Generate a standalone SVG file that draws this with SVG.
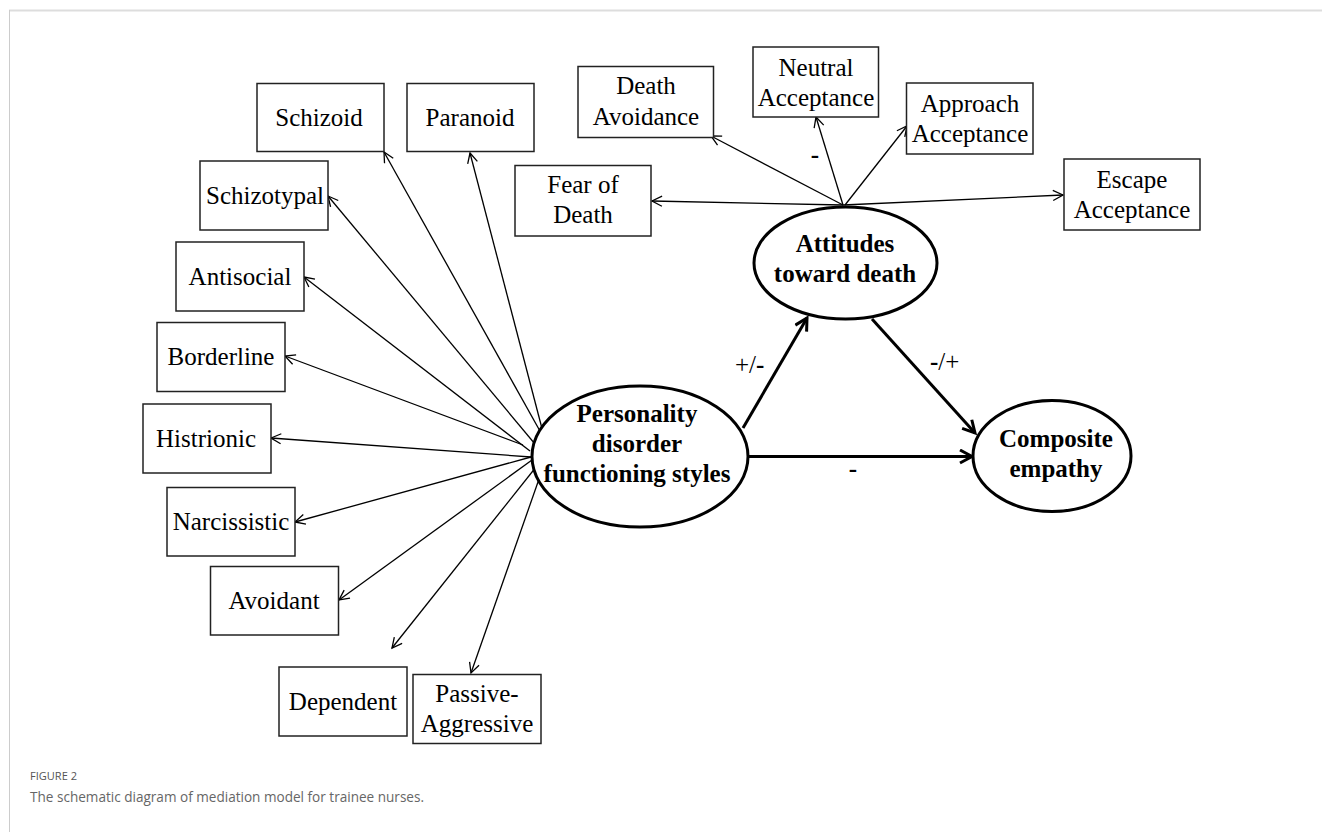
<svg xmlns="http://www.w3.org/2000/svg" width="1322" height="832" viewBox="0 0 1322 832">
<style>
.box{fill:#fff;stroke:#222;stroke-width:1.5}
.bt{font-family:"Liberation Serif","Times New Roman",serif;font-size:25px;fill:#000;text-anchor:middle}
.el{fill:#fff;stroke:#000;stroke-width:3}
.et{font-family:"Liberation Serif","Times New Roman",serif;font-size:25px;font-weight:bold;fill:#000;text-anchor:middle}
.thin{stroke:#000;stroke-width:1.3;fill:none;marker-end:url(#ah)}
.thick{stroke:#000;stroke-width:3;fill:none;marker-end:url(#ahb)}
.lbl{font-family:"Liberation Serif","Times New Roman",serif;font-size:25px;fill:#000}
</style>
<defs>
<marker id="ah" markerUnits="userSpaceOnUse" markerWidth="14" markerHeight="14" refX="11" refY="6" orient="auto">
<path d="M1,1 L11,6 L1,11" fill="none" stroke="#000" stroke-width="1.3"/>
</marker>
<marker id="ahb" markerUnits="userSpaceOnUse" markerWidth="18" markerHeight="18" refX="14" refY="8" orient="auto">
<path d="M2,1.5 L14,8 L2,14.5" fill="none" stroke="#000" stroke-width="3"/>
</marker>
</defs>
<rect width="1322" height="832" fill="#fff"/>
<line x1="9" y1="10.5" x2="1322" y2="10.5" stroke="#ddd" stroke-width="2"/>
<line x1="9.5" y1="10" x2="9.5" y2="832" stroke="#ccc" stroke-width="1"/>

<g id="connectors">
<line class="thin" x1="545" y1="440" x2="384" y2="152"/>
<line class="thin" x1="545" y1="440" x2="470" y2="153"/>
<line class="thin" x1="540" y1="450" x2="328" y2="196"/>
<line class="thin" x1="530" y1="451" x2="304" y2="277"/>
<line class="thin" x1="523" y1="445" x2="285" y2="356"/>
<line class="thin" x1="531" y1="457" x2="271" y2="438"/>
<line class="thin" x1="531" y1="457" x2="295" y2="522"/>
<line class="thin" x1="532" y1="460" x2="339" y2="600"/>
<line class="thin" x1="540" y1="462" x2="392" y2="648"/>
<line class="thin" x1="545" y1="462" x2="471" y2="673"/>
<line class="thin" x1="843" y1="205" x2="652" y2="201"/>
<line class="thin" x1="843" y1="205" x2="711" y2="136"/>
<line class="thin" x1="843" y1="205" x2="816" y2="117"/>
<line class="thin" x1="845" y1="205" x2="907" y2="126"/>
<line class="thin" x1="843" y1="205" x2="1063" y2="195"/>
<line class="thick" x1="743" y1="428" x2="807" y2="318"/>
<line class="thick" x1="872" y1="319" x2="975" y2="433"/>
<line class="thick" x1="748" y1="456.5" x2="972" y2="456.5"/>
<text class="lbl" x="735" y="373">+/<tspan font-weight="bold">-</tspan></text>
<text class="lbl" x="930" y="370"><tspan font-weight="bold">-</tspan>/+</text>
<text class="lbl" x="853" y="477" font-weight="bold" text-anchor="middle">-</text>
<text class="lbl" x="815" y="163" font-weight="bold" text-anchor="middle">-</text>
</g>

<g id="schizoid"><rect class="box" x="257" y="83.5" width="127" height="68"/><text class="bt" x="319" y="126">Schizoid</text></g>
<g id="paranoid"><rect class="box" x="407" y="83.5" width="127" height="68"/><text class="bt" x="470" y="126">Paranoid</text></g>
<g id="schizotypal"><rect class="box" x="200" y="161" width="128" height="69"/><text class="bt" x="265" y="204">Schizotypal</text></g>
<g id="antisocial"><rect class="box" x="176" y="242" width="128" height="69"/><text class="bt" x="240" y="285">Antisocial</text></g>
<g id="borderline"><rect class="box" x="157" y="322.5" width="128" height="69"/><text class="bt" x="221" y="365">Borderline</text></g>
<g id="histrionic"><rect class="box" x="143" y="404" width="128" height="69"/><text class="bt" x="206" y="447">Histrionic</text></g>
<g id="narcissistic"><rect class="box" x="167" y="487.5" width="128" height="68.5"/><text class="bt" x="231" y="530">Narcissistic</text></g>
<g id="avoidant"><rect class="box" x="210.5" y="566.5" width="128" height="68.5"/><text class="bt" x="274" y="609">Avoidant</text></g>
<g id="dependent"><rect class="box" x="279" y="667" width="128" height="69"/><text class="bt" x="343" y="710">Dependent</text></g>
<g id="passive-aggressive"><rect class="box" x="413" y="674.5" width="128" height="69"/><text class="bt" x="477" y="702">Passive-</text><text class="bt" x="477" y="732">Aggressive</text></g>

<g id="fear-of-death"><rect class="box" x="515" y="165.5" width="136" height="70.5"/><text class="bt" x="583" y="193">Fear of</text><text class="bt" x="583" y="223">Death</text></g>
<g id="death-avoidance"><rect class="box" x="578" y="66.5" width="135.5" height="71"/><text class="bt" x="646" y="94">Death</text><text class="bt" x="646" y="125">Avoidance</text></g>
<g id="neutral-acceptance"><rect class="box" x="753" y="47" width="125.5" height="70"/><text class="bt" x="816" y="76">Neutral</text><text class="bt" x="816" y="106">Acceptance</text></g>
<g id="approach-acceptance"><rect class="box" x="906.5" y="83" width="126.5" height="71"/><text class="bt" x="970" y="112">Approach</text><text class="bt" x="970" y="142">Acceptance</text></g>
<g id="escape-acceptance"><rect class="box" x="1064" y="159" width="136" height="71"/><text class="bt" x="1132" y="188">Escape</text><text class="bt" x="1132" y="218">Acceptance</text></g>

<g id="personality"><ellipse class="el" cx="640" cy="456.5" rx="108" ry="70.5"/><text class="et" x="637" y="422">Personality</text><text class="et" x="637" y="452">disorder</text><text class="et" x="637" y="482">functioning styles</text></g>
<g id="attitudes"><ellipse class="el" cx="845.5" cy="263" rx="91.5" ry="56"/><text class="et" x="845" y="252">Attitudes</text><text class="et" x="845" y="282">toward death</text></g>
<g id="composite"><ellipse class="el" cx="1052" cy="456" rx="79" ry="55.5"/><text class="et" x="1056" y="447">Composite</text><text class="et" x="1056" y="477">empathy</text></g>

<text x="30" y="780" font-family="'Open Sans',sans-serif" font-size="11.5" fill="#555" textLength="47" lengthAdjust="spacingAndGlyphs">FIGURE 2</text>
<text x="30" y="801.5" font-family="'Open Sans',sans-serif" font-size="14.5" fill="#666" textLength="394" lengthAdjust="spacingAndGlyphs">The schematic diagram of mediation model for trainee nurses.</text>
</svg>
